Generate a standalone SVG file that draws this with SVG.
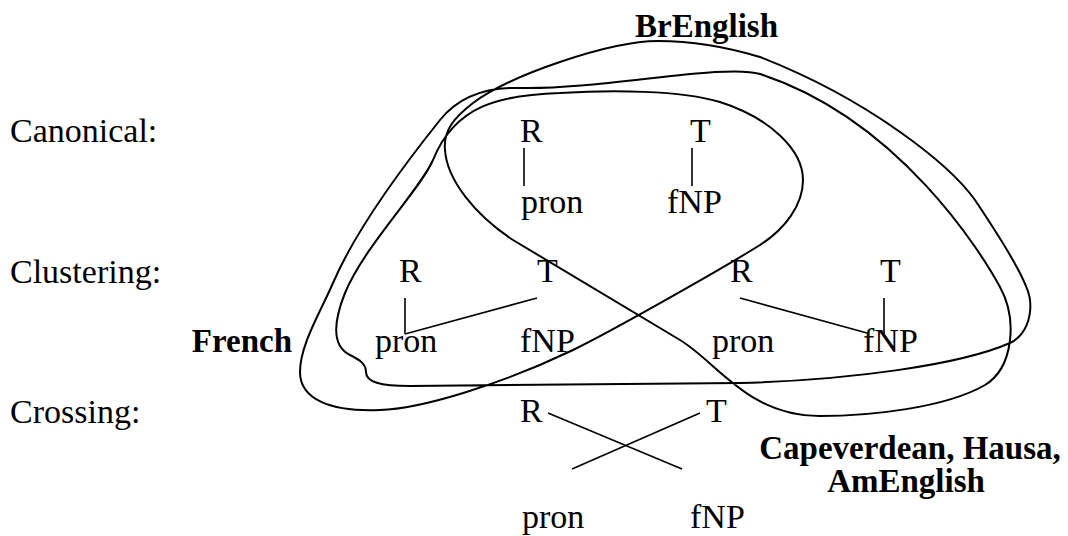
<svg xmlns="http://www.w3.org/2000/svg" width="1068" height="536" viewBox="0 0 1068 536">
<style>
text{font-family:"Liberation Serif","Times New Roman",serif;fill:#000}
.n{font-size:34px}
.b{font-size:33px;font-weight:bold}
.e{stroke:#000;stroke-width:1.6;fill:none;stroke-linecap:butt}
.c{stroke:#000;stroke-width:2;fill:none;stroke-linejoin:round}
</style>
<rect width="1068" height="536" fill="#fff"/>
<g id="regions">
<path class="c" d="M658,41 C610,41 510,75 473,103 C455,117 443,130 445,150 C447,180 475,215 513,240 L680,340 C718,363 748,416 820,416 C870,416 945,408 985,385 C1013,368 1018,320 1000,287 C982,254 900,120 760,74 C725,63 600,90 520,88 C490,87 460,95 440,120 C420,145 360,220 333,283 C320,313 300,345 300,372 C300,399 330,412 380,410 C420,409 500,385 573,350 C610,332 720,270 760,245 C785,229 803,205 803,180 C803,150 770,118 720,102 C680,90 610,90 560,93 C500,95 455,105 433,160 C420,190 365,245 345,293 C335,318 330,345 350,355 C360,360 366,364 366,372 C366,382 380,386 410,386 C520,386 630,385 740,383 C850,380 960,365 1010,343 C1025,336 1032,318 1030,300 C1028,280 995,230 975,200 C950,165 870,100 760,57 C720,45 690,41 658,41 Z"/>
</g>
<g id="row-labels">
<text id="lbl-canonical" class="n" x="10" y="142">Canonical:</text>
<text id="lbl-clustering" class="n" x="10" y="283">Clustering:</text>
<text id="lbl-crossing" class="n" x="10" y="423">Crossing:</text>
</g>
<g id="language-labels">
<text id="lbl-brenglish" class="b" x="635" y="37">BrEnglish</text>
<text id="lbl-french" class="b" x="292" y="352" text-anchor="end">French</text>
<text id="lbl-cape" class="b" x="910" y="459" text-anchor="middle">Capeverdean, Hausa,</text>
<text id="lbl-cape2" class="b" x="906" y="492" text-anchor="middle">AmEnglish</text>
</g>
<g id="connectors">
<line class="e" x1="524" y1="148" x2="524" y2="186"/>
<line class="e" x1="692" y1="148" x2="692" y2="186"/>
<line class="e" x1="405" y1="298" x2="405" y2="334"/>
<line class="e" x1="405" y1="334" x2="537" y2="298"/>
<line class="e" x1="740" y1="298" x2="867" y2="333"/>
<line class="e" x1="884" y1="298" x2="884" y2="336"/>
<line class="e" x1="548" y1="413" x2="682" y2="469"/>
<line class="e" x1="700" y1="413" x2="572" y2="469"/>
</g>
<g id="can-R"><text class="n" x="520" y="142">R</text></g>
<g id="can-T"><text class="n" x="690" y="142">T</text></g>
<g id="can-pron"><text class="n" x="521" y="213">pron</text></g>
<g id="can-fNP"><text class="n" x="667" y="213">fNP</text></g>
<g id="cl1-R"><text class="n" x="399" y="282">R</text></g>
<g id="cl1-T"><text class="n" x="537" y="282">T</text></g>
<g id="cl1-pron"><text class="n" x="375" y="352">pron</text></g>
<g id="cl1-fNP"><text class="n" x="520" y="352">fNP</text></g>
<g id="cl2-R"><text class="n" x="730" y="282">R</text></g>
<g id="cl2-T"><text class="n" x="880" y="282">T</text></g>
<g id="cl2-pron"><text class="n" x="712" y="352">pron</text></g>
<g id="cl2-fNP"><text class="n" x="863" y="352">fNP</text></g>
<g id="cr-R"><text class="n" x="520" y="422">R</text></g>
<g id="cr-T"><text class="n" x="706" y="422">T</text></g>
<g id="cr-pron"><text class="n" x="522" y="528">pron</text></g>
<g id="cr-fNP"><text class="n" x="690" y="528">fNP</text></g>
</svg>
